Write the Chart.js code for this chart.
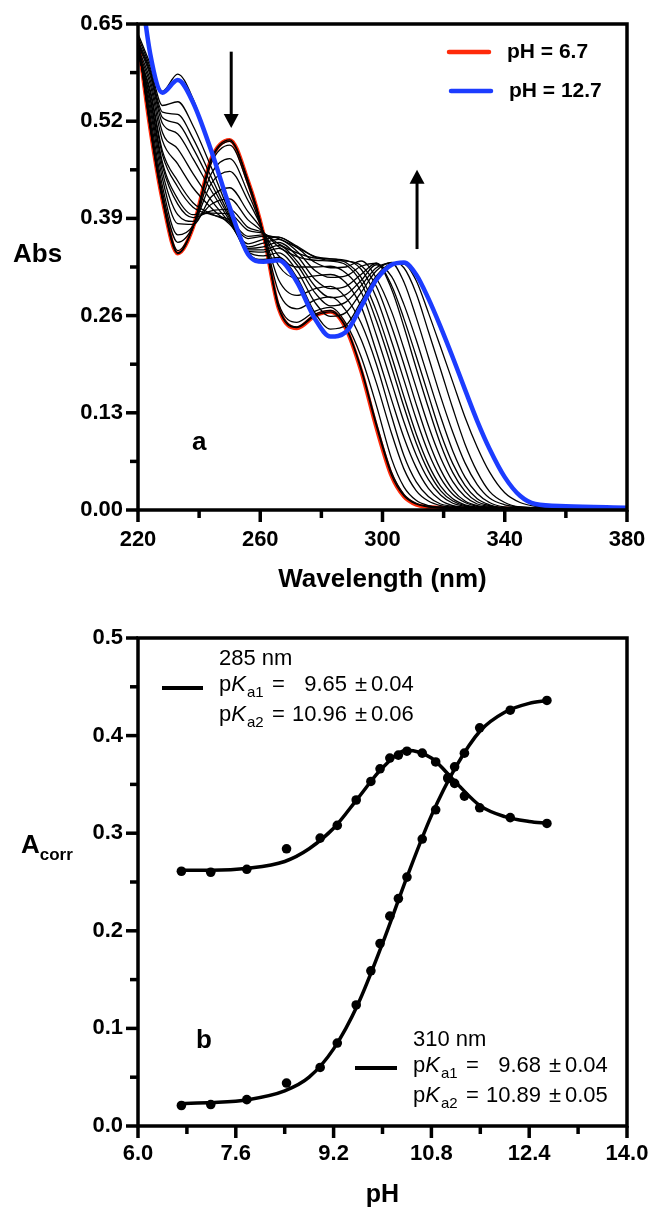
<!DOCTYPE html>
<html><head><meta charset="utf-8">
<script src="https://cdn.jsdelivr.net/npm/chart.js@4.4.1/dist/chart.umd.min.js"></script>
<style>
html,body{margin:0;padding:0;background:#fff;}
#wrap{position:relative;width:652px;height:1212px;background:#fff;}
canvas{position:absolute;left:0;}
#c1{top:0;} #c2{top:600px;}
</style></head><body>
<div id="wrap"><canvas id="c1" width="652" height="600"></canvas><canvas id="c2" width="652" height="612"></canvas></div>
<script>
// ---------- Panel a: UV spectra ----------
const wavelengths = [220,224,228,233,238,244,250,256,261,266,272,278,283,288,293,298,303,307,311,315,319,323,327,331,335,340,345,350,360,380];
const abs_pH6_7  = [0.630,0.510,0.415,0.343,0.378,0.470,0.495,0.440,0.370,0.270,0.243,0.260,0.265,0.243,0.186,0.110,0.045,0.018,0.007,0.004,0.003,0.002,0.002,0.002,0.002,0.002,0.001,0.001,0.001,0.001];
const abs_pH7_2  = [0.630,0.510,0.415,0.343,0.378,0.470,0.495,0.440,0.370,0.270,0.244,0.260,0.265,0.244,0.187,0.112,0.046,0.019,0.008,0.004,0.003,0.002,0.002,0.002,0.002,0.002,0.002,0.002,0.002,0.002];
const abs_pH7_8  = [0.630,0.511,0.416,0.344,0.378,0.468,0.493,0.440,0.370,0.272,0.245,0.262,0.267,0.245,0.190,0.116,0.050,0.021,0.009,0.005,0.003,0.002,0.002,0.002,0.002,0.002,0.002,0.002,0.002,0.002];
const abs_pH8_4  = [0.628,0.513,0.418,0.347,0.378,0.464,0.488,0.435,0.370,0.276,0.251,0.266,0.271,0.250,0.205,0.140,0.068,0.031,0.013,0.006,0.004,0.003,0.003,0.003,0.003,0.003,0.003,0.003,0.003,0.003];
const abs_pH9_0  = [0.625,0.519,0.425,0.358,0.379,0.450,0.470,0.424,0.371,0.292,0.269,0.281,0.285,0.267,0.228,0.170,0.102,0.055,0.026,0.012,0.006,0.004,0.003,0.003,0.003,0.003,0.003,0.003,0.003,0.003];
const abs_pH9_3  = [0.622,0.527,0.433,0.368,0.380,0.437,0.453,0.414,0.372,0.308,0.287,0.296,0.299,0.284,0.250,0.195,0.125,0.073,0.038,0.018,0.008,0.005,0.003,0.003,0.003,0.003,0.003,0.003,0.003,0.003];
const abs_pH9_6  = [0.616,0.535,0.443,0.383,0.382,0.419,0.431,0.399,0.372,0.327,0.310,0.313,0.315,0.304,0.272,0.212,0.147,0.097,0.057,0.029,0.013,0.006,0.004,0.003,0.003,0.003,0.003,0.003,0.003,0.003];
const abs_pH9_8  = [0.614,0.542,0.452,0.395,0.386,0.409,0.416,0.388,0.371,0.340,0.325,0.325,0.326,0.317,0.292,0.234,0.170,0.118,0.074,0.041,0.020,0.009,0.005,0.003,0.003,0.003,0.003,0.003,0.003,0.003];
const abs_pH10_0 = [0.611,0.549,0.460,0.409,0.391,0.400,0.402,0.378,0.371,0.352,0.339,0.334,0.333,0.328,0.304,0.253,0.191,0.138,0.090,0.052,0.026,0.012,0.006,0.003,0.003,0.003,0.003,0.003,0.003,0.003];
const abs_pH10_1 = [0.611,0.552,0.465,0.416,0.395,0.397,0.396,0.374,0.370,0.356,0.344,0.337,0.336,0.331,0.311,0.266,0.205,0.152,0.102,0.061,0.032,0.015,0.007,0.004,0.003,0.003,0.003,0.003,0.003,0.003];
const abs_pH10_3 = [0.611,0.558,0.475,0.432,0.405,0.395,0.388,0.366,0.368,0.363,0.351,0.339,0.336,0.334,0.322,0.284,0.225,0.174,0.122,0.077,0.043,0.021,0.010,0.005,0.003,0.003,0.003,0.003,0.003,0.003];
const abs_pH10_4 = [0.611,0.562,0.480,0.440,0.411,0.396,0.385,0.363,0.366,0.365,0.353,0.338,0.334,0.333,0.327,0.299,0.245,0.195,0.142,0.093,0.054,0.027,0.012,0.006,0.004,0.003,0.003,0.003,0.003,0.003];
const abs_pH10_65= [0.614,0.569,0.494,0.463,0.431,0.404,0.382,0.356,0.362,0.365,0.351,0.331,0.324,0.325,0.333,0.310,0.265,0.216,0.164,0.113,0.070,0.038,0.018,0.008,0.005,0.003,0.003,0.003,0.003,0.003];
const abs_pH10_85= [0.618,0.575,0.505,0.483,0.450,0.414,0.384,0.352,0.357,0.362,0.346,0.320,0.311,0.313,0.326,0.330,0.295,0.245,0.190,0.137,0.088,0.050,0.025,0.011,0.006,0.003,0.003,0.003,0.003,0.003];
const abs_pH11_05= [0.623,0.581,0.517,0.503,0.470,0.427,0.387,0.350,0.352,0.358,0.340,0.308,0.296,0.299,0.315,0.330,0.300,0.256,0.206,0.154,0.103,0.062,0.033,0.015,0.007,0.003,0.003,0.003,0.003,0.003];
const abs_pH11_2 = [0.625,0.585,0.525,0.517,0.484,0.436,0.390,0.348,0.348,0.354,0.333,0.299,0.284,0.288,0.307,0.328,0.312,0.275,0.228,0.176,0.125,0.079,0.044,0.022,0.010,0.004,0.003,0.003,0.003,0.003];
const abs_pH11_35= [0.628,0.588,0.532,0.529,0.497,0.445,0.393,0.346,0.345,0.350,0.328,0.290,0.273,0.278,0.300,0.324,0.330,0.305,0.258,0.205,0.152,0.104,0.063,0.034,0.016,0.007,0.004,0.003,0.003,0.003];
const abs_pH11_6 = [0.633,0.592,0.541,0.546,0.514,0.458,0.397,0.345,0.340,0.344,0.320,0.277,0.259,0.264,0.291,0.320,0.331,0.324,0.290,0.239,0.188,0.136,0.088,0.051,0.025,0.010,0.004,0.003,0.003,0.003];
const abs_pH12_1 = [0.637,0.597,0.560,0.583,0.550,0.478,0.402,0.343,0.335,0.338,0.311,0.263,0.242,0.247,0.279,0.313,0.329,0.329,0.307,0.264,0.218,0.171,0.124,0.084,0.051,0.023,0.010,0.005,0.003,0.003];
const abs_pH12_7 = [0.730,0.610,0.558,0.575,0.545,0.480,0.405,0.342,0.332,0.334,0.305,0.255,0.232,0.238,0.272,0.308,0.328,0.331,0.315,0.283,0.245,0.204,0.161,0.119,0.082,0.044,0.019,0.008,0.005,0.003];
const intermediateSpectra = [abs_pH7_2,abs_pH7_8,abs_pH8_4,abs_pH9_0,abs_pH9_3,abs_pH9_6,abs_pH9_8,abs_pH10_0,abs_pH10_1,abs_pH10_3,abs_pH10_4,abs_pH10_65,abs_pH10_85,abs_pH11_05,abs_pH11_2,abs_pH11_35,abs_pH11_6,abs_pH12_1];
const spectraLegend = ['pH = 6.7','pH = 12.7'];
const wlTickLabels = ['220','260','300','340','380'];
const absTickLabels = ['0.00','0.13','0.26','0.39','0.52','0.65'];

// ---------- Panel b: titration ----------
const pHvalues = [6.71,7.19,7.78,8.43,8.98,9.26,9.57,9.81,9.96,10.12,10.26,10.40,10.65,10.87,11.07,11.18,11.34,11.59,12.09,12.69];
const acorr285 = [0.261,0.260,0.263,0.284,0.295,0.308,0.334,0.353,0.366,0.377,0.380,0.384,0.382,0.373,0.356,0.351,0.338,0.326,0.316,0.310];
const acorr310 = [0.021,0.022,0.027,0.044,0.060,0.085,0.124,0.159,0.187,0.215,0.233,0.255,0.294,0.324,0.357,0.368,0.382,0.408,0.426,0.436];
const fitPH   = [6.7,7.2,7.8,8.4,8.8,9.2,9.6,10.0,10.4,10.8,11.2,11.6,12.0,12.4,12.7];
const fit285  = [0.262,0.262,0.264,0.271,0.284,0.305,0.336,0.367,0.385,0.377,0.352,0.328,0.317,0.312,0.310];
const fit310  = [0.023,0.024,0.027,0.036,0.050,0.079,0.125,0.187,0.255,0.318,0.368,0.405,0.424,0.433,0.436];
const legend285 = ['285 nm','9.65','0.04','10.96','0.06'];
const legend310 = ['310 nm','9.68','0.04','10.89','0.05'];
const phTickLabels = ['6.0','7.6','9.2','10.8','12.4','14.0'];
const acorrTickLabels = ['0.0','0.1','0.2','0.3','0.4','0.5'];

// ---------- styling ----------
const FONT = "'Liberation Sans', Arial, Helvetica, sans-serif";
Chart.defaults.font.family = FONT;
Chart.defaults.color = '#000';
const RED = '#ff2a0a', BLUE = '#1c3cff';
const xy = (xs, ys) => xs.map((x, i) => ({x, y: ys[i]}));

function drawAxesFrame(chart) {
  const {ctx, chartArea: a} = chart;
  const xs = chart.scales.x, ys = chart.scales.y;
  ctx.save();
  ctx.strokeStyle = '#000';
  ctx.lineWidth = 3.5;
  ctx.lineCap = 'butt';
  xs.ticks.forEach((t, i) => {
    const p = xs.getPixelForValue(t.value);
    const len = i % 2 === 0 ? 12 : 8;
    ctx.beginPath(); ctx.moveTo(p, a.bottom); ctx.lineTo(p, a.bottom + len); ctx.stroke();
  });
  ys.ticks.forEach((t, i) => {
    const p = ys.getPixelForValue(t.value);
    const len = i % 2 === 0 ? 12 : 8;
    ctx.beginPath(); ctx.moveTo(a.left, p); ctx.lineTo(a.left - len, p); ctx.stroke();
  });
  ctx.strokeRect(a.left, a.top, a.right - a.left, a.bottom - a.top);
  ctx.restore();
}

function arrow(ctx, x, y1, y2) {
  const dir = y2 > y1 ? 1 : -1;
  const headLen = 14, hw = 7.5;
  ctx.save();
  ctx.strokeStyle = '#000'; ctx.fillStyle = '#000'; ctx.lineWidth = 3;
  ctx.beginPath(); ctx.moveTo(x, y1); ctx.lineTo(x, y2 - dir * headLen + dir); ctx.stroke();
  ctx.beginPath(); ctx.moveTo(x, y2); ctx.lineTo(x - hw, y2 - dir * headLen); ctx.lineTo(x + hw, y2 - dir * headLen); ctx.closePath(); ctx.fill();
  ctx.restore();
}

function pkaBlock(ctx, x0, yTop, labels) {
  const big = '22px ' + FONT, small = '15px ' + FONT, ital = 'italic 22px ' + FONT;
  ctx.save();
  ctx.fillStyle = '#000';
  ctx.textBaseline = 'alphabetic';
  ctx.font = big;
  ctx.fillText(labels[0], x0, yTop);
  const rows = [[yTop + 26, 'a1', labels[1], labels[2]], [yTop + 56, 'a2', labels[3], labels[4]]];
  rows.forEach(r => {
    const y = r[0];
    ctx.font = big; ctx.textAlign = 'left';
    ctx.fillText('p', x0, y);
    const wp = ctx.measureText('p').width;
    ctx.font = ital; ctx.fillText('K', x0 + wp, y);
    const wk = ctx.measureText('K').width;
    ctx.font = small; ctx.fillText(r[1], x0 + wp + wk + 1, y + 6);
    ctx.font = big;
    ctx.fillText('=', x0 + 53, y);
    ctx.textAlign = 'right'; ctx.fillText(r[2], x0 + 128, y);
    ctx.textAlign = 'left';
    ctx.fillText('\u00B1', x0 + 136, y);
    ctx.fillText(r[3], x0 + 152, y);
  });
  ctx.restore();
}

const fixX = h => s => { s.height = h; s.paddingLeft = 0; s.paddingRight = 0; };
const fixY = s => { s.width = 138; s.paddingTop = 0; s.paddingBottom = 0; };

// ---------- chart a ----------
const datasetsA = [];
datasetsA.push({label: spectraLegend[1], data: xy(wavelengths, abs_pH12_7), borderColor: BLUE, borderWidth: 4.5, order: 0});
intermediateSpectra.forEach((s, i) => datasetsA.push({label: 'int' + i, data: xy(wavelengths, s), borderColor: '#000', borderWidth: 1.3, order: 1}));
datasetsA.push({label: spectraLegend[0], data: xy(wavelengths, abs_pH6_7), borderColor: RED, borderWidth: 4, order: 2});
datasetsA.forEach(d => { d.pointRadius = 0; d.fill = false; d.cubicInterpolationMode = 'monotone'; });

const annotA = {
  id: 'annotA',
  afterDatasetsDraw(chart) {
    drawAxesFrame(chart);
    const {ctx} = chart;
    const xs = chart.scales.x, ys = chart.scales.y;
    ctx.save();
    ctx.fillStyle = '#000';
    ctx.font = 'bold 26px ' + FONT;
    ctx.textBaseline = 'alphabetic';
    ctx.fillText('Abs', 13, 262);
    ctx.fillText('a', xs.getPixelForValue(237.7), ys.getPixelForValue(0.080));
    arrow(ctx, xs.getPixelForValue(250.5), ys.getPixelForValue(0.613), ys.getPixelForValue(0.511));
    arrow(ctx, xs.getPixelForValue(311.3), ys.getPixelForValue(0.349), ys.getPixelForValue(0.455));
    ctx.lineWidth = 4.5; ctx.lineCap = 'round';
    ctx.strokeStyle = RED; ctx.beginPath(); ctx.moveTo(449, 52); ctx.lineTo(489, 52); ctx.stroke();
    ctx.strokeStyle = BLUE; ctx.beginPath(); ctx.moveTo(451, 91); ctx.lineTo(491, 91); ctx.stroke();
    ctx.font = 'bold 21px ' + FONT;
    ctx.textBaseline = 'middle';
    ctx.fillText(spectraLegend[0], 507, 52);
    ctx.fillText(spectraLegend[1], 509, 91);
    ctx.restore();
  }
};

new Chart(document.getElementById('c1'), {
  type: 'line',
  data: {datasets: datasetsA},
  options: {
    responsive: false, devicePixelRatio: 1, animation: false,
    layout: {padding: {top: 24, right: 25, left: 0, bottom: 0}},
    plugins: {legend: {display: false}, tooltip: {enabled: false}},
    scales: {
      x: {
        type: 'linear', min: 220, max: 380,
        grid: {display: false, drawTicks: false}, border: {display: false},
        ticks: {stepSize: 20, autoSkip: false, maxRotation: 0, minRotation: 0, maxTicksLimit: 30, padding: 17,
          font: {size: 22, weight: 'bold'}, callback: (v, i) => i % 2 === 0 ? wlTickLabels[i / 2] : ''},
        title: {display: true, text: 'Wavelength (nm)', font: {size: 26, weight: 'bold'}, padding: {top: 0, bottom: 5}},
        afterFit: fixX(90)
      },
      y: {
        type: 'linear', min: 0, max: 0.65,
        grid: {display: false, drawTicks: false}, border: {display: false},
        ticks: {stepSize: 0.065, autoSkip: false, maxTicksLimit: 30, padding: 15,
          font: {size: 22, weight: 'bold'}, callback: (v, i) => i % 2 === 0 ? absTickLabels[i / 2] : ''},
        afterFit: fixY
      }
    }
  },
  plugins: [annotA]
});

// ---------- chart b ----------
const datasetsB = [
  {label: 'fit285', data: xy(fitPH, fit285), borderColor: '#000', borderWidth: 3.5, pointRadius: 0, cubicInterpolationMode: 'monotone', fill: false},
  {label: 'fit310', data: xy(fitPH, fit310), borderColor: '#000', borderWidth: 3.5, pointRadius: 0, cubicInterpolationMode: 'monotone', fill: false},
  {label: '285 nm', data: xy(pHvalues, acorr285), showLine: false, pointRadius: 4.8, pointBackgroundColor: '#000', pointBorderWidth: 0},
  {label: '310 nm', data: xy(pHvalues, acorr310), showLine: false, pointRadius: 4.8, pointBackgroundColor: '#000', pointBorderWidth: 0}
];

const annotB = {
  id: 'annotB',
  afterDatasetsDraw(chart) {
    drawAxesFrame(chart);
    const {ctx} = chart;
    const xs = chart.scales.x, ys = chart.scales.y;
    ctx.save();
    ctx.fillStyle = '#000';
    ctx.textBaseline = 'alphabetic';
    ctx.font = 'bold 26px ' + FONT;
    ctx.fillText('A', 21, 253);
    const wA = ctx.measureText('A').width;
    ctx.font = 'bold 17px ' + FONT;
    ctx.fillText('corr', 21 + wA, 260);
    ctx.font = 'bold 26px ' + FONT;
    ctx.fillText('b', xs.getPixelForValue(6.95), ys.getPixelForValue(0.080));
    ctx.strokeStyle = '#000'; ctx.lineWidth = 4; ctx.lineCap = 'butt';
    ctx.beginPath(); ctx.moveTo(162, 88); ctx.lineTo(203, 88); ctx.stroke();
    ctx.beginPath(); ctx.moveTo(355, 468); ctx.lineTo(397, 468); ctx.stroke();
    ctx.restore();
    pkaBlock(ctx, 219, 65, legend285);
    pkaBlock(ctx, 413, 446, legend310);
  }
};

new Chart(document.getElementById('c2'), {
  type: 'line',
  data: {datasets: datasetsB},
  options: {
    responsive: false, devicePixelRatio: 1, animation: false,
    layout: {padding: {top: 38, right: 25, left: 0, bottom: 0}},
    plugins: {legend: {display: false}, tooltip: {enabled: false}},
    scales: {
      x: {
        type: 'linear', min: 6, max: 14,
        grid: {display: false, drawTicks: false}, border: {display: false},
        ticks: {stepSize: 0.8, autoSkip: false, maxRotation: 0, minRotation: 0, maxTicksLimit: 30, padding: 15,
          font: {size: 22, weight: 'bold'}, callback: (v, i) => i % 2 === 0 ? phTickLabels[i / 2] : ''},
        title: {display: true, text: 'pH', font: {size: 25, weight: 'bold'}, padding: {top: 0, bottom: 2}},
        afterFit: fixX(86)
      },
      y: {
        type: 'linear', min: 0, max: 0.5,
        grid: {display: false, drawTicks: false}, border: {display: false},
        ticks: {stepSize: 0.05, autoSkip: false, maxTicksLimit: 30, padding: 15,
          font: {size: 22, weight: 'bold'}, callback: (v, i) => i % 2 === 0 ? acorrTickLabels[i / 2] : ''},
        afterFit: fixY
      }
    }
  },
  plugins: [annotB]
});
</script></body></html>
